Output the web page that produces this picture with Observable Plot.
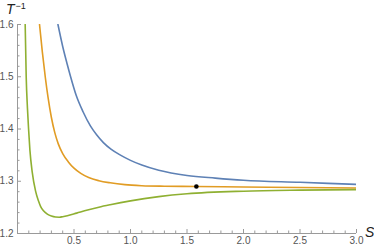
<!DOCTYPE html>
<html><head><meta charset="utf-8">
<script src="https://cdn.jsdelivr.net/npm/d3@7"></script>
<script src="https://cdn.jsdelivr.net/npm/@observablehq/plot@0.6"></script>
<style>body{margin:0;background:#fff} svg{display:block}</style>
</head><body><div id="chart"></div>
<script>
// Series values (S, 1/T)
const blueS = [0.358, 0.40, 0.44, 0.47, 0.52, 0.58, 0.645, 0.70, 0.76, 0.83, 0.911, 1.0, 1.1, 1.25, 1.5, 1.75, 2.0, 2.5, 3.0];
const blueV = [1.600, 1.558, 1.524, 1.500, 1.464, 1.433, 1.406, 1.389, 1.374, 1.361, 1.350, 1.340, 1.331, 1.321, 1.311, 1.306, 1.302, 1.298, 1.294];

const orangeS = [0.195, 0.22, 0.246, 0.27, 0.30, 0.33, 0.36, 0.40, 0.45, 0.50, 0.56, 0.63, 0.72, 0.82, 0.95, 1.1, 1.3, 1.583, 2.0, 2.5, 3.0];
const orangeV = [1.600, 1.547, 1.499, 1.461, 1.422, 1.393, 1.372, 1.353, 1.337, 1.325, 1.315, 1.307, 1.301, 1.297, 1.2935, 1.2915, 1.2905, 1.290, 1.289, 1.288, 1.287];

const greenS = [0.068, 0.077, 0.088, 0.098, 0.110, 0.130, 0.160, 0.186, 0.204, 0.23, 0.264, 0.30, 0.337, 0.37, 0.40, 0.441, 0.524, 0.62, 0.72, 0.82, 1.0, 1.25, 1.5, 2.0, 2.5, 3.0];
const greenV = [1.600, 1.500, 1.440, 1.400, 1.359, 1.318, 1.281, 1.262, 1.252, 1.2435, 1.2370, 1.2333, 1.2315, 1.2312, 1.2322, 1.2340, 1.2390, 1.2448, 1.2503, 1.2550, 1.2625, 1.2705, 1.2760, 1.2810, 1.2830, 1.2840];

const pointS = [1.583];
const pointV = [1.290];

// Axis ticks
const xMajor = [0.5, 1.0, 1.5, 2.0, 2.5, 3.0];
const xMajorLabels = ["0.5", "1.0", "1.5", "2.0", "2.5", "3.0"];
const xMinor = [0.1,0.2,0.3,0.4,0.6,0.7,0.8,0.9,1.1,1.2,1.3,1.4,1.6,1.7,1.8,1.9,2.1,2.2,2.3,2.4,2.6,2.7,2.8,2.9];
const yMajor = [1.2, 1.3, 1.4, 1.5, 1.6];
const yMajorLabels = ["1.2", "1.3", "1.4", "1.5", "1.6"];
const yMinor = [1.22,1.24,1.26,1.28,1.32,1.34,1.36,1.38,1.42,1.44,1.46,1.48,1.52,1.54,1.56,1.58];

const colors = {blue: "#5E81B5", orange: "#E19C24", green: "#8FB032"};
const toRows = (S, V) => S.map((s, i) => ({s, v: V[i]}));
const blue = toRows(blueS, blueV);
const orange = toRows(orangeS, orangeV);
const green = toRows(greenS, greenV);
const pts = toRows(pointS, pointV);

const axisColor = "#9a9a9a";
const font = "'Liberation Sans', Arial, sans-serif";

const chart = Plot.plot({
  width: 374,
  height: 249,
  marginLeft: 17,
  marginRight: 18,
  marginTop: 24,
  marginBottom: 16,
  style: {fontFamily: font, background: "#fff", overflow: "visible"},
  x: {domain: [0, 3]},
  y: {domain: [1.2, 1.6]},
  marks: [
    Plot.ruleY([1.2], {stroke: axisColor, strokeWidth: 1}),
    Plot.ruleX([0], {stroke: axisColor, strokeWidth: 1}),
    Plot.axisX({ticks: xMajor, tickSize: -4, stroke: axisColor, text: null, label: null}),
    Plot.axisX({ticks: xMinor, tickSize: -2.5, stroke: axisColor, text: null, label: null}),
    Plot.axisY({ticks: yMajor, tickSize: -4, stroke: axisColor, text: null, label: null}),
    Plot.axisY({ticks: yMinor, tickSize: -2.5, stroke: axisColor, text: null, label: null}),
    Plot.axisX({ticks: xMajor, tickFormat: (d, i) => xMajorLabels[i], tickSize: 0, tickPadding: 3, fontSize: 10, fill: "#555", label: null}),
    Plot.axisY({ticks: yMajor, tickFormat: (d, i) => yMajorLabels[i], tickSize: 0, tickPadding: 4, fontSize: 10, fill: "#555", label: null}),
    Plot.line(blue, {x: "s", y: "v", stroke: colors.blue, strokeWidth: 1.6, curve: "monotone-x", clip: true}),
    Plot.line(orange, {x: "s", y: "v", stroke: colors.orange, strokeWidth: 1.6, curve: "monotone-x", clip: true}),
    Plot.line(green, {x: "s", y: "v", stroke: colors.green, strokeWidth: 1.6, curve: "monotone-x", clip: true}),
    Plot.dot(pts, {x: "s", y: "v", r: 2.3, fill: "#000"})
  ]
});

const svg = d3.select(chart);
const tl = svg.append("text")
  .attr("x", 6).attr("y", 14).attr("text-anchor", "start")
  .attr("font-family", font).attr("font-size", 14).attr("fill", "#222");
tl.append("tspan").attr("font-style", "italic").text("T");
tl.append("tspan").attr("font-size", 9).attr("dy", -5).attr("dx", 1).text("−1");
svg.append("text")
  .attr("x", 365).attr("y", 237).attr("text-anchor", "start")
  .attr("font-family", font).attr("font-size", 14).attr("font-style", "italic").attr("fill", "#222")
  .text("S");

document.getElementById("chart").appendChild(chart);
</script>
</body></html>
